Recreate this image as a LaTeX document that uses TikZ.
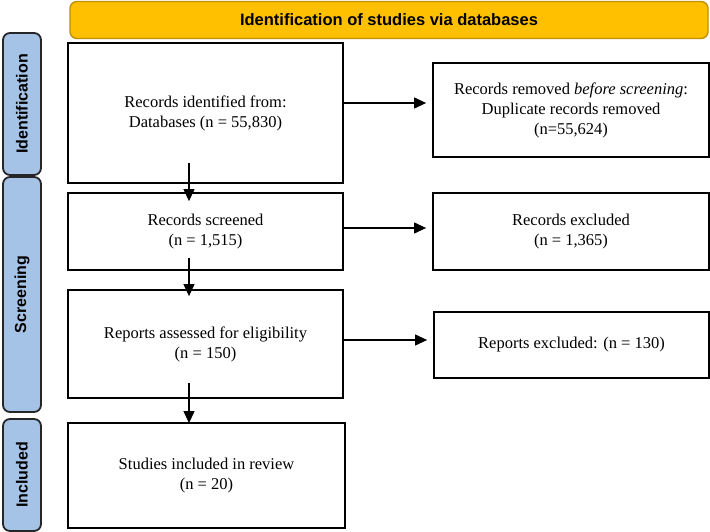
\documentclass[tikz,border=0pt]{standalone}
\usepackage{fontspec}
\setmainfont{Liberation Serif}
\setsansfont{Liberation Sans}
\usepackage{tikz}
\usetikzlibrary{calc, positioning}
\usetikzlibrary{arrows.meta}

\definecolor{bannerfill}{RGB}{255,192,0}
\definecolor{bannerline}{RGB}{191,144,0}
\definecolor{phasefill}{RGB}{164,195,231}

\tikzset{
    box/.style={draw, line width=1.8pt, align=center, inner sep=0pt,
        font=\fontsize{16.5}{20}\selectfont},
    phase/.style={draw=black!85, line width=1.8pt, fill=phasefill,
        rounded corners=7pt, rotate=90, minimum height=38pt, inner sep=0pt,
        font=\sffamily\bfseries\fontsize{16}{19}\selectfont},
    banner/.style={draw=bannerline, line width=1.4pt, fill=bannerfill,
        rounded corners=7pt, inner sep=0pt,
        font=\sffamily\bfseries\fontsize{16.5}{19}\selectfont},
    flow/.style={-{Triangle[length=12pt,width=11pt]}, line width=1.1pt},
}

\begin{document}
\begin{tikzpicture}[x=1pt, y=-1pt]
    \useasboundingbox (0,0) rectangle (710,532);

    % header and phases
    \node[banner, minimum width=638pt, minimum height=37pt] (head) at (389,20)
        {Identification of studies via databases};
    \node[phase, minimum width=142pt] (ident) at (22,104) {Identification};
    \node[phase, minimum width=235pt] (screen) at (22,294.5) {Screening};
    \node[phase, minimum width=112pt] (incl) at (22,475) {Included};

    % main column
    \node[box, minimum width=275pt, minimum height=140pt] (recid) at (205.5,113)
        {Records identified from:\\Databases (n = 55,830)};
    \node[box, minimum width=275pt, minimum height=77pt] (screened) at (205.5,231.5)
        {Records screened\\(n = 1,515)};
    \node[box, minimum width=275pt, minimum height=108pt] (reports) at (205.5,344)
        {Reports assessed for eligibility\\(n = 150)};
    \node[box, minimum width=277pt, minimum height=105pt] (studies) at (206.5,475.5)
        {Studies included in review\\(n = 20)};

    % side column
    \node[box, minimum width=276pt, minimum height=94pt] (removed) at (571,110)
        {Records removed \textit{before screening}:\\Duplicate records removed\\(n=55,624)};
    \node[box, minimum width=276pt, minimum height=77pt] (excluded) at (571,231.5)
        {Records excluded\\(n = 1,365)};
    \node[box, minimum width=275pt, minimum height=66pt] (rptexcl) at (571.5,345)
        {Reports excluded: (n = 130)};

    % down arrows
    \draw[flow] ([xshift=-16.5pt,yshift=21pt]recid.south)
        -- ([xshift=-16.5pt,yshift=-9pt]screened.north);
    \draw[flow] ([xshift=-16.5pt,yshift=12.5pt]screened.south)
        -- ([xshift=-16.5pt,yshift=-7pt]reports.north);
    \draw[flow] ([xshift=-16.5pt,yshift=16pt]reports.south)
        -- ([xshift=-17.5pt,yshift=-1pt]studies.north);

    % side arrows
    \draw[flow, shorten >=6pt] ([yshift=10pt]recid.east)
        -- ([yshift=10pt]recid.east -| removed.west);
    \draw[flow, shorten >=6pt] ([yshift=3.5pt]screened.east)
        -- ([yshift=3.5pt]screened.east -| excluded.west);
    \draw[flow, shorten >=6pt] ([yshift=4pt]reports.east)
        -- ([yshift=4pt]reports.east -| rptexcl.west);
\end{tikzpicture}
\end{document}
